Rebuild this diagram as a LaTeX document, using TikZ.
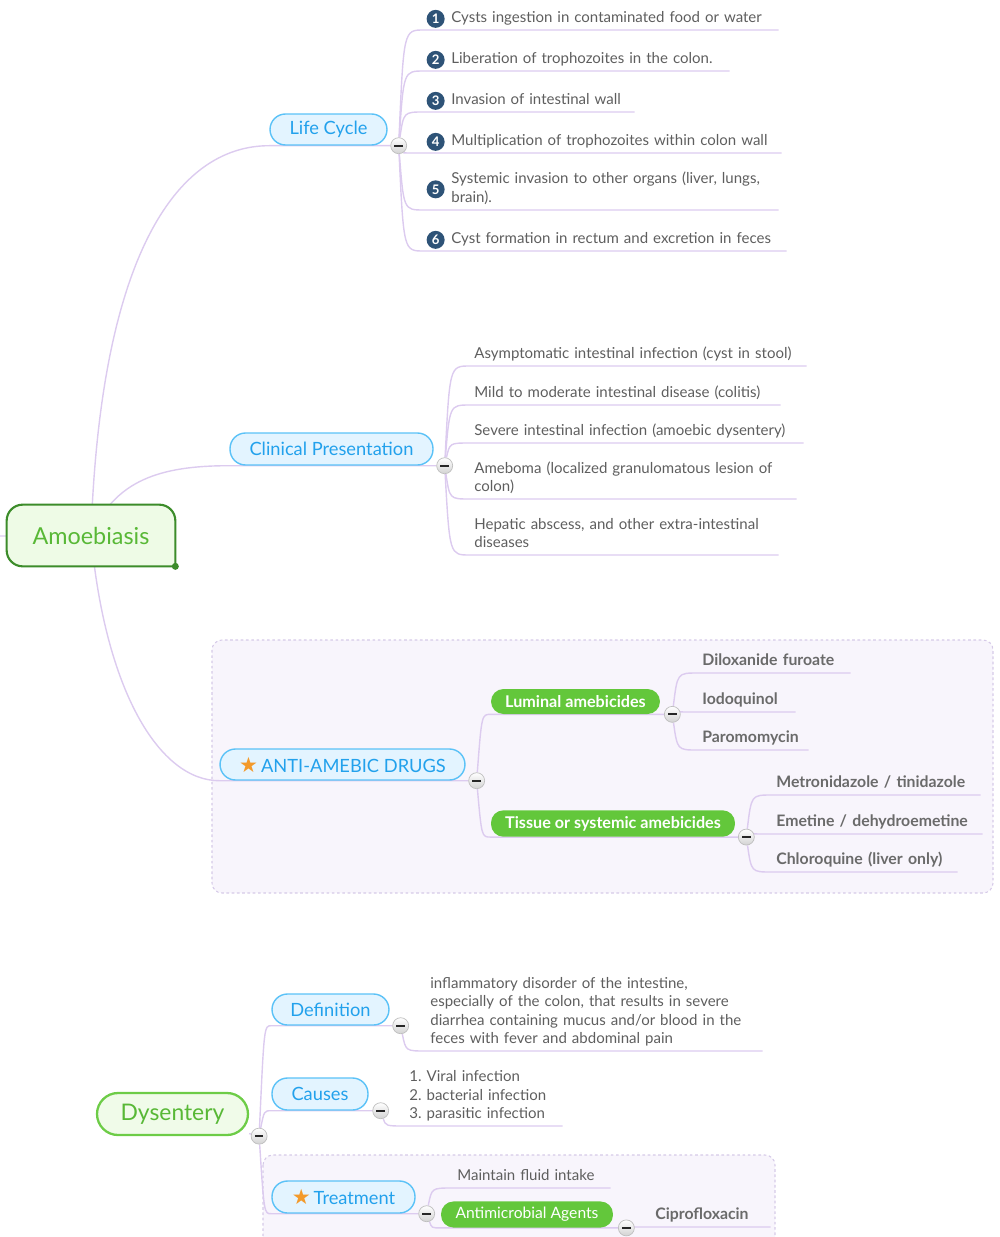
\documentclass[tikz,border=0pt]{standalone}
\usepackage{fontspec}
\setmainfont{Lato}
\newfontfamily\symfont{DejaVu Sans}
\usetikzlibrary{calc}
\frenchspacing

\definecolor{twig}{HTML}{DCCBEF}
\definecolor{topicline}{HTML}{5BC2F7}
\definecolor{topicfill}{HTML}{E3F4FF}
\definecolor{topictext}{HTML}{22A1EC}
\definecolor{rootline}{HTML}{3C8C2A}
\definecolor{rootfill}{HTML}{EEFBE6}
\definecolor{roottext}{HTML}{58B836}
\definecolor{dysline}{HTML}{6DCC47}
\definecolor{dysfill}{HTML}{F0FBE9}
\definecolor{pillgreen}{HTML}{63C73B}
\definecolor{leaftext}{HTML}{5E5E5E}
\definecolor{drugtext}{HTML}{6A6A6A}
\definecolor{numblue}{HTML}{2E5377}
\definecolor{panelfill}{HTML}{F8F5FC}
\definecolor{panelline}{HTML}{D6CAE8}
\definecolor{starorange}{HTML}{F39A2B}

\pgfdeclarelayer{panel}
\pgfdeclarelayer{wires}
\pgfsetlayers{panel,wires,main}

\tikzset{
  branch/.style={draw=twig, line width=0.8pt},
  topic/.style={draw=topicline, fill=topicfill, text=topictext, line width=0.8pt,
    rounded corners=0.31cm, minimum height=0.62cm, inner xsep=2pt,
    font=\fontsize{10.4}{12}\selectfont},
  pill/.style={fill=pillgreen, text=white, rounded corners=0.25cm, minimum height=0.5cm,
    inner xsep=2pt, font=\fontsize{9.2}{11}\selectfont\bfseries},
  fold/.style={circle, draw=gray!50, top color=white, bottom color=gray!35,
    minimum size=0.32cm, inner sep=0pt,
    path picture={\draw[line width=1.2pt, gray!30!black]
      ([xshift=-2.4pt]path picture bounding box.center) --
      ([xshift=2.4pt]path picture bounding box.center);}},
  leaf/.style={anchor=south west, align=left, inner xsep=0.1cm, inner ysep=1.9pt,
    text=leaftext, font=\fontsize{8.55}{10.5}\selectfont,
    execute at end node={\rule[-2.2pt]{0pt}{2.2pt}}},
  drug/.style={leaf, text=drugtext, font=\fontsize{9}{10.5}\selectfont\bfseries},
  stepdot/.style={circle, fill=numblue, text=white, inner sep=0pt, minimum size=0.36cm,
    label distance=0.02cm, font=\fontsize{7.5}{8}\selectfont\bfseries},
  rootlabel/.style={minimum width=3.36cm, minimum height=1.22cm, text=roottext,
    font=\fontsize{13.3}{15}\selectfont},
  dysbox/.style={draw=dysline, fill=dysfill, text=roottext, line width=1.3pt,
    rounded corners=0.42cm, minimum width=3.02cm, minimum height=0.84cm,
    font=\fontsize{13}{15}\selectfont},
  panelbox/.style={draw=panelline, dash pattern=on 1.5pt off 1.5pt, fill=panelfill,
    rounded corners=0.2cm, line width=0.6pt}
}

\newcommand\favstar{{\symfont\fontsize{12}{12}\selectfont\color{starorange}★}\hspace{0.06cm}}
\newcommand\twig[2]{\draw[branch] (#1) .. controls ($(#1 |- #2.south west)+(5,0)$) ..
  ($(#1 |- #2.south west)+(25,0)$) -- (#2.south east);}
\newcommand\limb[3]{\draw[branch] (#1) .. controls ($(#1 |- #2.south west)+(5,0)$) ..
  (#2.south west) -- (#3);}

\begin{document}
\begin{tikzpicture}[x=0.02cm, y=-0.02cm]
  \useasboundingbox (0,0) rectangle (1000,1237);

  \coordinate (root) at (0,536);
  \node[rootlabel] (am) at (91,535.5) {Amoebiasis};

  \node[topic, minimum width=2.34cm] (lc) at (328.5,129.5) {Life Cycle};
  \node[fold] (lcf) at ([xshift=0.22cm]lc.south east) {};
  \node[leaf, text width=6.44cm, label={[stepdot]west:1}] (lc1) at (446,30) {Cysts ingestion in contaminated food or water};
  \node[leaf, text width=5.46cm, label={[stepdot]west:2}] (lc2) at (446,71) {Liberation of trophozoites in the colon.};
  \node[leaf, text width=3.56cm, label={[stepdot]west:3}] (lc3) at (446,112) {Invasion of intestinal wall};
  \node[leaf, text width=6.5cm, label={[stepdot]west:4}] (lc4) at (446,153) {Multiplication of trophozoites within colon wall};
  \node[leaf, text width=6.44cm, label={[stepdot]west:5}] (lc5) at (446,210) {Systemic invasion to other organs (liver, lungs,\\brain).};
  \node[leaf, text width=6.6cm, label={[stepdot]west:6}] (lc6) at (446,251) {Cyst formation in rectum and excretion in feces};

  \node[topic, minimum width=4.06cm, minimum height=0.64cm] (cp) at (331.5,449) {Clinical Presentation};
  \node[fold] (cpf) at ([xshift=0.22cm]cp.south east) {};
  \node[leaf, text width=6.54cm] (cp1) at (469,366) {Asymptomatic intestinal infection (cyst in stool)};
  \node[leaf, text width=6.02cm] (cp2) at (469,405) {Mild to moderate intestinal disease (colitis)};
  \node[leaf, text width=6.48cm] (cp3) at (469,443) {Severe intestinal infection (amoebic dysentery)};
  \node[leaf, text width=6.34cm] (cp4) at (469,499) {Ameboma (localized granulomatous lesion of\\colon)};
  \node[leaf, text width=5.98cm] (cp5) at (469,555) {Hepatic abscess, and other extra-intestinal\\diseases};

  \node[topic, minimum width=4.9cm] (an) at (342.5,764.5) {\favstar ANTI-AMEBIC DRUGS};
  \node[fold] (anf) at ([xshift=0.22cm]an.south east) {};
  \node[pill, minimum width=3.38cm] (lu) at (575.5,701.5) {Luminal amebicides};
  \node[fold] (luf) at ([xshift=0.24cm]lu.south east) {};
  \node[drug, text width=2.86cm] (lu1) at (697,673) {Diloxanide furoate};
  \node[drug, text width=1.76cm] (lu2) at (697,712) {Iodoquinol};
  \node[drug, text width=2.02cm] (lu3) at (697,750) {Paromomycin};
  \node[pill, minimum width=4.88cm] (ts) at (613,823.5) {Tissue or systemic amebicides};
  \node[fold] (tsf) at ([xshift=0.22cm]ts.south east) {};
  \node[drug, text width=3.98cm] (ts1) at (771,795) {Metronidazole / tinidazole};
  \node[drug, text width=4.02cm] (ts2) at (771,834) {Emetine / dehydroemetine};
  \node[drug, text width=3.52cm] (ts3) at (771,872) {Chloroquine (liver only)};

  \node[dysbox] (dy) at (172.5,1114) {Dysentery};
  \node[fold] (dyf) at ([xshift=0.2cm]dy.south east) {};
  \node[topic, minimum width=2.34cm] (df) at (330.5,1009.5) {Definition};
  \node[fold] (dff) at ([xshift=0.22cm]df.south east) {};
  \node[leaf, text width=6.54cm] (dfx) at (425,1051) {inflammatory disorder of the intestine,\\especially of the colon, that results in severe\\diarrhea containing mucus and/or blood in the\\feces with fever and abdominal pain};
  \node[topic, minimum width=1.92cm, minimum height=0.64cm] (cs) at (320,1094) {Causes};
  \node[fold] (csf) at ([xshift=0.24cm]cs.south east) {};
  \node[leaf, text width=2.96cm] (cst) at (404,1126) {1. Viral infection\\2. bacterial infection\\3. parasitic infection};
  \node[topic, minimum width=2.86cm, minimum height=0.64cm] (tr) at (343.5,1197) {\favstar Treatment};
  \node[fold] (trf) at ([xshift=0.22cm]tr.south east) {};
  \node[leaf, text width=2.96cm] (tr1) at (452,1188) {Maintain fluid intake};
  \node[pill, minimum width=3.44cm, font=\fontsize{8.9}{10}\selectfont] (amx) at (527,1214.5) {Antimicrobial Agents};
  \node[fold] (amxf) at ([xshift=0.26cm]amx.south east) {};
  \node[drug, text width=2.2cm] (cip) at (650,1227) {Ciprofloxacin};

  \begin{pgfonlayer}{panel}
    \draw[panelbox] (212,640) rectangle (993,893);
    \draw[panelbox] (263,1155) rectangle (775,1262);
  \end{pgfonlayer}

  \begin{pgfonlayer}{wires}
    \draw[branch] (root) -- (am);
    \draw[branch] (am.center) .. controls +(9,-275) and +(-95,0) .. (lc.south west) -- (lcf);
    \draw[branch] (am.center) .. controls +(24,-55) and +(-70,0) .. (cp.south west) -- (cpf);
    \draw[branch] (am.center) .. controls +(14,155) and +(-60,0) .. (an.south west) -- (anf);
    \foreach \i in {1,...,6} {\twig{lcf}{lc\i}}
    \foreach \i in {1,...,5} {\twig{cpf}{cp\i}}
    \limb{anf}{lu}{luf}
    \limb{anf}{ts}{tsf}
    \foreach \i in {1,2,3} {\twig{luf}{lu\i} \twig{tsf}{ts\i}}
    \draw[branch] (dy) -- (dyf);
    \limb{dyf}{df}{dff}
    \limb{dyf}{cs}{csf}
    \limb{dyf}{tr}{trf}
    \twig{dff}{dfx}
    \twig{csf}{cst}
    \twig{trf}{tr1}
    \limb{trf}{amx}{amxf}
    \twig{amxf}{cip}
    \draw[rootline, fill=rootfill, line width=1.2pt] (am.south east) [rounded corners=0.32cm]
      -- (am.north east) -- (am.north west) -- (am.south west) -- (am.south) [sharp corners] -- cycle;
    \fill[rootline] (am.south east) circle (0.07cm);
  \end{pgfonlayer}
\end{tikzpicture}
\end{document}
